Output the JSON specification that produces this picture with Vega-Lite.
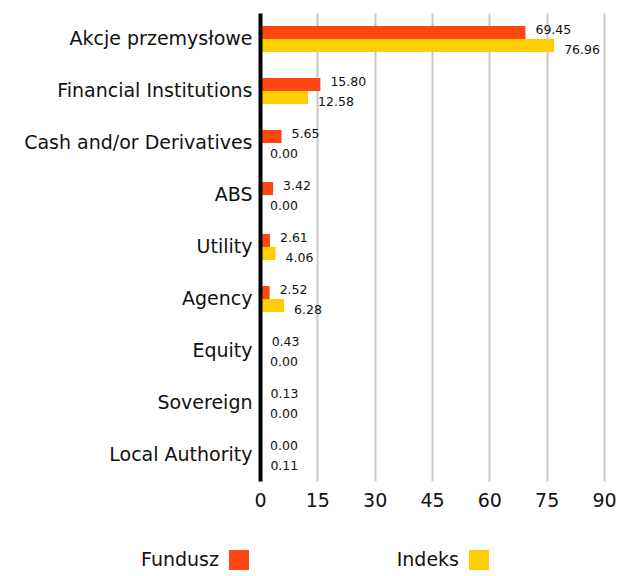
{
  "$schema": "https://vega.github.io/schema/vega-lite/v6.json",
  "autosize": {"type": "none"},
  "padding": {"left": 260, "top": 13, "right": 13, "bottom": 95},
  "width": 344,
  "height": 468,
  "background": "white",
  "config": {
    "view": {"stroke": null},
    "font": "DejaVu Sans"
  },
  "data": {
    "values": [
      {"cat": "Akcje przemysłowe", "series": "Fundusz", "v": 69.45},
      {"cat": "Akcje przemysłowe", "series": "Indeks", "v": 76.96},
      {"cat": "Financial Institutions", "series": "Fundusz", "v": 15.80},
      {"cat": "Financial Institutions", "series": "Indeks", "v": 12.58},
      {"cat": "Cash and/or Derivatives", "series": "Fundusz", "v": 5.65},
      {"cat": "Cash and/or Derivatives", "series": "Indeks", "v": 0.00},
      {"cat": "ABS", "series": "Fundusz", "v": 3.42},
      {"cat": "ABS", "series": "Indeks", "v": 0.00},
      {"cat": "Utility", "series": "Fundusz", "v": 2.61},
      {"cat": "Utility", "series": "Indeks", "v": 4.06},
      {"cat": "Agency", "series": "Fundusz", "v": 2.52},
      {"cat": "Agency", "series": "Indeks", "v": 6.28},
      {"cat": "Equity", "series": "Fundusz", "v": 0.43},
      {"cat": "Equity", "series": "Indeks", "v": 0.00},
      {"cat": "Sovereign", "series": "Fundusz", "v": 0.13},
      {"cat": "Sovereign", "series": "Indeks", "v": 0.00},
      {"cat": "Local Authority", "series": "Fundusz", "v": 0.00},
      {"cat": "Local Authority", "series": "Indeks", "v": 0.11}
    ]
  },
  "encoding": {
    "y": {
      "field": "cat", "type": "nominal", "sort": null,
      "scale": {"paddingInner": 0.5, "paddingOuter": 0.25},
      "axis": {
        "title": null, "ticks": false, "labelFontSize": 19, "labelColor": "#111",
        "labelPadding": 8, "domainColor": "#000", "domainWidth": 4, "labelLimit": 300, "zindex": 1
      }
    },
    "yOffset": {"field": "series", "type": "nominal", "sort": ["Fundusz", "Indeks"]},
    "x": {
      "field": "v", "type": "quantitative",
      "scale": {"domain": [0, 90]},
      "axis": {
        "title": null, "values": [0, 15, 30, 45, 60, 75, 90], "domain": false, "ticks": false,
        "gridColor": "#c8c8c8", "gridWidth": 2, "labelFlush": false,
        "labelFontSize": 19, "labelColor": "#111", "labelPadding": 10
      }
    }
  },
  "layer": [
    {
      "mark": {"type": "bar"},
      "encoding": {
        "color": {
          "field": "series", "type": "nominal",
          "scale": {"domain": ["Fundusz", "Indeks"], "range": ["#FF4713", "#FFCE00"]},
          "legend": {
            "title": null, "orient": "none", "direction": "horizontal",
            "legendX": -31, "legendY": 537,
            "symbolType": "square", "symbolSize": 400, "symbolStrokeWidth": 0,
            "labelAlign": "right", "labelOffset": -30, "labelFontSize": 19, "labelColor": "#111",
            "columnPadding": 147, "labelLimit": 200
          }
        }
      }
    },
    {
      "transform": [{"filter": "datum.series === 'Fundusz'"}],
      "mark": {"type": "text", "align": "left", "dx": 10, "dy": -2.5, "fontSize": 12.5, "color": "#111"},
      "encoding": {
        "text": {"field": "v", "type": "quantitative", "format": ".2f"}
      }
    },
    {
      "transform": [{"filter": "datum.series === 'Indeks'"}],
      "mark": {"type": "text", "align": "left", "dx": 10, "dy": 4, "fontSize": 12.5, "color": "#111"},
      "encoding": {
        "text": {"field": "v", "type": "quantitative", "format": ".2f"}
      }
    }
  ]
}
